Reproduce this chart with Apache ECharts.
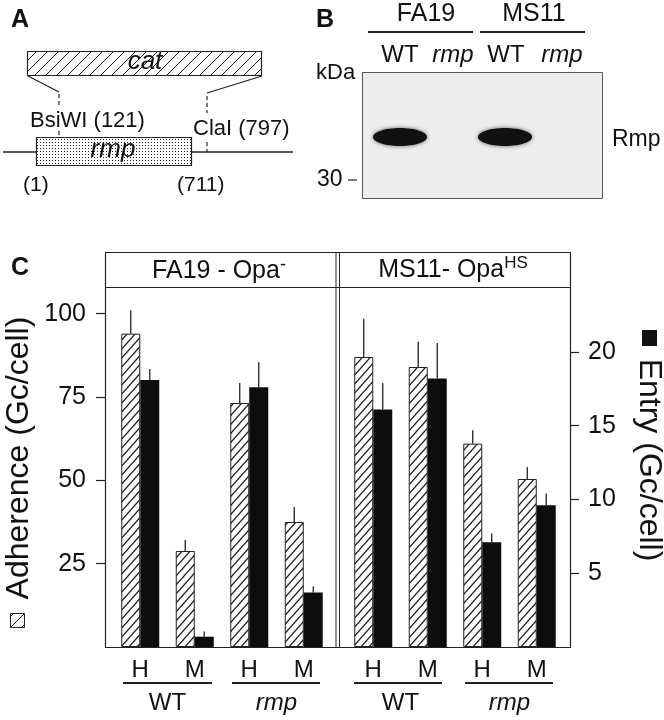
<!DOCTYPE html>
<html>
<head>
<meta charset="utf-8">
<script src="https://cdn.jsdelivr.net/npm/echarts@6/dist/echarts.min.js"></script>
<style>html,body{margin:0;padding:0;background:#fff}#main{width:664px;height:720px}</style>
</head>
<body>
<div id="main"></div>
<script>
// panel C data
const treatments = ['H', 'M', 'H', 'M'];
const strains = ['WT', 'rmp'];
const fa19Adh = [94, 28.8, 73.2, 37.5];
const fa19AdhErr = [7, 3.3, 6, 4.5];
const fa19Entry = [18.1, 0.7, 17.6, 3.7];
const fa19EntryErr = [0.75, 0.35, 1.7, 0.4];
const ms11Adh = [87, 84, 61, 50.4];
const ms11AdhErr = [11.5, 7.6, 4, 3.6];
const ms11Entry = [16.1, 18.2, 7.1, 9.6];
const ms11EntryErr = [1.8, 2.4, 0.6, 0.8];
const adhTicks = [25, 50, 75, 100];
const entryTicks = [5, 10, 15, 20];
const adhMax = 108;
const entryMax = 24.4;

const FONT = '"Liberation Sans", Arial, Helvetica, sans-serif';
const INK = '#111';

// hatch / stipple tiles
function makeHatch(w, h, lw) {
  let c = document.createElement('canvas');
  c.width = w; c.height = h;
  let g = c.getContext('2d');
  g.fillStyle = '#fff';
  g.fillRect(0, 0, w, h);
  g.strokeStyle = '#1a1a1a';
  g.lineWidth = lw;
  g.beginPath();
  [[0, 0], [0, -h], [w, 0]].forEach(function (d) {
    g.moveTo(-w + d[0], 2 * h + d[1]);
    g.lineTo(2 * w + d[0], -h + d[1]);
  });
  g.stroke();
  return c;
}
function makeDots() {
  let c = document.createElement('canvas');
  c.width = 3; c.height = 3;
  let g = c.getContext('2d');
  g.fillStyle = '#fff';
  g.fillRect(0, 0, 3, 3);
  g.fillStyle = '#222';
  g.fillRect(1, 1, 1, 1);
  return c;
}
const barHatch = {image: makeHatch(8, 9, 1.2), repeat: 'repeat'};
const boxHatch = {image: makeHatch(11, 11, 1), repeat: 'repeat'};
const dots = {image: makeDots(), repeat: 'repeat'};

function txt(x, y, text, size, opt) {
  opt = opt || {};
  return {
    type: 'text', x: x, y: y, rotation: opt.rotation || 0, z: 10,
    style: {
      text: text, fontSize: size, fontFamily: FONT,
      fontStyle: opt.italic ? 'italic' : 'normal',
      fontWeight: opt.bold ? 'bold' : 'normal',
      fill: INK,
      align: opt.align || 'center', textAlign: opt.align || 'center',
      verticalAlign: opt.va || 'middle', textVerticalAlign: opt.va || 'middle',
      rich: opt.rich
    }
  };
}
function ln(x1, y1, x2, y2, w, dash) {
  return {type: 'line', z: 10, shape: {x1: x1, y1: y1, x2: x2, y2: y2},
    style: {stroke: '#222', lineWidth: w || 1.2, lineDash: dash || null}};
}

function errRender(shift) {
  return function (params, api) {
    let a = api.coord([api.value(0), api.value(1)]);
    let b = api.coord([api.value(0), api.value(1) + api.value(2)]);
    return {type: 'line', shape: {x1: a[0] + shift, y1: a[1], x2: b[0] + shift, y2: b[1]},
      style: {stroke: '#222', lineWidth: 1.3}};
  };
}

let chart = echarts.init(document.getElementById('main'));

let catAxis = function (grid) {
  return {gridIndex: grid, type: 'category', data: treatments,
    axisLine: {show: false}, axisTick: {show: false},
    axisLabel: {margin: 11, fontSize: 24, color: INK, fontFamily: FONT}};
};
let strainAxis = function (grid) {
  return {gridIndex: grid, type: 'category', data: strains, position: 'bottom',
    axisLine: {show: false}, axisTick: {show: false},
    axisLabel: {margin: 44, fontSize: 24, color: INK, fontFamily: FONT,
      formatter: function (v) { return v === 'rmp' ? '{i|rmp}' : v; },
      rich: {i: {fontStyle: 'italic', fontSize: 24, fontFamily: FONT, color: INK}}}};
};

function barSeries(xi, yAdh, yEnt, adh, adhErr, ent, entErr) {
  return [
    {type: 'bar', name: 'Adherence', xAxisIndex: xi, yAxisIndex: yAdh, data: adh,
      barWidth: 19, barGap: '0%', animation: false,
      itemStyle: {color: barHatch, borderColor: '#222', borderWidth: 1}},
    {type: 'bar', name: 'Entry', xAxisIndex: xi, yAxisIndex: yEnt, data: ent,
      barWidth: 19, barGap: '0%', animation: false,
      itemStyle: {color: '#0d0d0d'}},
    {type: 'custom', xAxisIndex: xi, yAxisIndex: yAdh, z: 5, animation: false,
      renderItem: errRender(-9.5), encode: {x: 0, y: 1},
      data: adh.map(function (v, i) { return [i, v, adhErr[i]]; })},
    {type: 'custom', xAxisIndex: xi, yAxisIndex: yEnt, z: 5, animation: false,
      renderItem: errRender(9.5), encode: {x: 0, y: 1},
      data: ent.map(function (v, i) { return [i, v, entErr[i]]; })}
  ];
}

let graphics = [
  // panel A
  txt(11, 8, 'A', 25, {bold: true, align: 'left', va: 'top'}),
  {type: 'rect', z: 9, shape: {x: 27.5, y: 51.5, width: 234, height: 24},
    style: {fill: boxHatch, stroke: '#222', lineWidth: 1.2}},
  txt(145, 62, 'cat', 26, {italic: true}),
  ln(28, 76, 59, 92), ln(59, 94, 59, 106, 1.2, [4, 3]),
  txt(30, 121, 'BsiWI (121)', 22, {align: 'left'}),
  ln(59, 131, 59, 138, 1.2, [4, 3]),
  ln(262, 76, 207, 93), ln(207, 96, 207, 113, 1.2, [4, 3]),
  txt(193, 129, 'ClaI (797)', 22, {align: 'left'}),
  ln(207, 142, 207, 152, 1.2, [4, 3]),
  ln(3, 152, 293, 152, 1.5),
  {type: 'rect', z: 11, shape: {x: 36.5, y: 137.5, width: 155, height: 28},
    style: {fill: dots, stroke: '#222', lineWidth: 1.2}},
  Object.assign(txt(113, 150, 'rmp', 26, {italic: true}), {z: 12}),
  txt(23, 185, '(1)', 21, {align: 'left'}),
  txt(177, 185, '(711)', 21, {align: 'left'}),
  // panel B
  txt(316, 8, 'B', 25, {bold: true, align: 'left', va: 'top'}),
  txt(426, 14, 'FA19', 25), txt(534, 14, 'MS11', 25),
  ln(368, 32, 473, 32, 2), ln(480, 32, 585, 32, 2),
  txt(400, 55, 'WT', 24), txt(453, 55, 'rmp', 24, {italic: true}),
  txt(506, 55, 'WT', 24), txt(562, 55, 'rmp', 24, {italic: true}),
  txt(316, 73, 'kDa', 22, {align: 'left'}),
  {type: 'rect', z: 9, shape: {x: 362.5, y: 72.5, width: 240, height: 126},
    style: {fill: '#ededed', stroke: '#555', lineWidth: 1}},
  {type: 'ellipse', z: 10, shape: {cx: 400, cy: 137, rx: 27, ry: 9},
    style: {fill: '#111', shadowBlur: 4, shadowColor: 'rgba(0,0,0,0.6)'}},
  {type: 'ellipse', z: 10, shape: {cx: 505, cy: 137, rx: 27, ry: 9},
    style: {fill: '#111', shadowBlur: 4, shadowColor: 'rgba(0,0,0,0.6)'}},
  txt(612, 140, 'Rmp', 23, {align: 'left'}),
  txt(317, 180, '30', 23, {align: 'left'}),
  ln(348, 180, 357, 180),
  // panel C frame
  txt(11, 256, 'C', 25, {bold: true, align: 'left', va: 'top'}),
  {type: 'rect', z: 10, shape: {x: 105.5, y: 252.5, width: 465, height: 395},
    style: {fill: null, stroke: '#222', lineWidth: 1.2}},
  ln(105.5, 287.5, 570.5, 287.5),
  ln(336, 252.5, 336, 647.5, 1), ln(339.5, 252.5, 339.5, 647.5, 1),
  txt(219, 271, '{m|FA19 - Opa}{s|-}', 25, {rich: {
    m: {fontSize: 25, fontFamily: FONT, lineHeight: 30, fill: INK},
    s: {fontSize: 18, fontFamily: FONT, verticalAlign: 'top', fill: INK}}}),
  txt(453, 270, '{m|MS11- Opa}{s|HS}', 25, {rich: {
    m: {fontSize: 25, fontFamily: FONT, lineHeight: 30, fill: INK},
    s: {fontSize: 17, fontFamily: FONT, verticalAlign: 'top', fill: INK}}}),
  ln(123, 683, 212, 683, 2), ln(232, 683, 320, 683, 2),
  ln(354, 683, 442, 683, 2), ln(465, 683, 553, 683, 2),
  // axis names
  txt(19, 458, 'Adherence (Gc/cell)', 32, {rotation: Math.PI / 2}),
  {type: 'rect', z: 10, shape: {x: 10.5, y: 613.5, width: 14, height: 14},
    style: {fill: boxHatch, stroke: '#222', lineWidth: 1}},
  txt(649, 460, 'Entry (Gc/cell)', 32, {rotation: -Math.PI / 2}),
  {type: 'rect', z: 10, shape: {x: 642, y: 330, width: 15, height: 16},
    style: {fill: '#111'}}
];

let option = {
  animation: false,
  backgroundColor: '#fff',
  grid: [
    {left: 113, top: 287, width: 218, height: 360},
    {left: 346, top: 287, width: 218, height: 360}
  ],
  xAxis: [catAxis(0), strainAxis(0), catAxis(1), strainAxis(1)],
  yAxis: [
    {gridIndex: 0, type: 'value', min: 0, max: adhMax, position: 'left', offset: 7,
      axisLine: {show: false}, splitLine: {show: false},
      axisTick: {show: true, length: 10, customValues: adhTicks, lineStyle: {color: '#222', width: 1.2}},
      axisLabel: {customValues: adhTicks, margin: 20, fontSize: 25, color: INK, fontFamily: FONT}},
    {gridIndex: 0, type: 'value', min: 0, max: entryMax, show: false},
    {gridIndex: 1, type: 'value', min: 0, max: adhMax, show: false},
    {gridIndex: 1, type: 'value', min: 0, max: entryMax, position: 'right', offset: 6,
      axisLine: {show: false}, splitLine: {show: false},
      axisTick: {show: true, length: 9, customValues: entryTicks, lineStyle: {color: '#222', width: 1.2}},
      axisLabel: {customValues: entryTicks, margin: 18, fontSize: 25, color: INK, fontFamily: FONT}}
  ],
  series: barSeries(0, 0, 1, fa19Adh, fa19AdhErr, fa19Entry, fa19EntryErr)
    .concat(barSeries(2, 2, 3, ms11Adh, ms11AdhErr, ms11Entry, ms11EntryErr)),
  graphic: {elements: graphics}
};

chart.setOption(option);
</script>
</body>
</html>
